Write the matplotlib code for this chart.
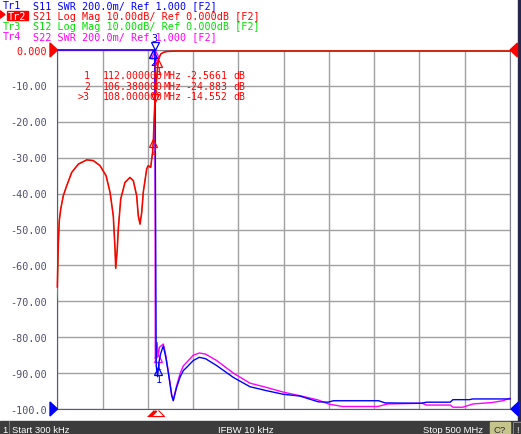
import numpy as np
import matplotlib
matplotlib.use('Agg')
import matplotlib.pyplot as plt
from matplotlib.patches import Polygon, Rectangle
from matplotlib.transforms import offset_copy

# 画面尺寸 (像素)
W, H = 521, 435

# 扫描范围 (MHz)
f_start = 0.3
f_stop = 500.0

# Tr2 S21 Log Mag (dB)
s21_freq = [0.3, 1.4, 2.5, 4.1, 6.9, 10.7, 16.2, 23.5, 32.8, 40.0,
            47.4, 54.1, 58.5, 62.1, 64.0, 64.8, 66.5, 67.6, 70.3, 75.0,
            80.5, 84.2, 87.9, 89.7, 91.6, 93.5, 95.2, 99.0, 100.7, 103.4,
            104.5, 105.5, 106.38, 107.2, 108.0, 110.0, 112.0, 114.5, 118.0, 122.0,
            130.0, 500.0]
s21_db = [-66.0, -54.0, -47.5, -44.3, -40.6, -37.8, -34.1, -31.8, -30.6, -30.8,
          -32.2, -35.0, -39.6, -46.2, -55.4, -60.8, -55.4, -49.9, -41.5, -36.9,
          -35.5, -36.4, -40.6, -46.2, -48.5, -45.2, -39.6, -33.1, -32.2, -32.7,
          -30.4, -28.5, -24.883, -19.0, -14.552, -7.5, -2.5661, -1.1, -0.6, -0.4,
          -0.3, -0.3]

# Tr3 S12 Log Mag (dB), lies under S21 except at the very start
s12_freq = s21_freq
s12_db = [-69.0] + s21_db[1:]

# Tr1 S11 SWR
s11_freq = [0.3, 108.0, 109.5, 111.0, 112.5, 114.5, 117.3, 120.0, 122.8, 126.6,
            128.3, 132.0, 136.0, 139.4, 143.1, 150.4, 157.0, 164.0, 176.2, 194.6,
            213.0, 231.4, 249.8, 268.2, 288.4, 299.4, 305.0, 355.0, 362.0, 402.0,
            408.0, 434.0, 437.0, 455.0, 459.0, 500.0]
s11_swr = [9.0, 9.0, 1.24, 1.18, 1.26, 1.31, 1.352, 1.29, 1.204, 1.074,
           1.046, 1.12, 1.18, 1.214, 1.232, 1.27, 1.288, 1.28, 1.242, 1.176,
           1.124, 1.102, 1.082, 1.072, 1.04, 1.038, 1.046, 1.046, 1.034, 1.032,
           1.038, 1.038, 1.052, 1.052, 1.056, 1.056]

# Tr4 S22 SWR
s22_freq = [0.3, 108.0, 108.5, 109.5, 110.5, 111.5, 113.0, 117.3, 120.0, 122.8,
            126.6, 128.3, 132.0, 136.0, 139.4, 143.1, 150.4, 157.0, 164.0, 176.2,
            194.6, 213.0, 231.4, 249.8, 268.2, 288.4, 299.4, 315.0, 354.0, 365.0,
            403.0, 408.0, 434.0, 437.0, 448.0, 459.0, 480.0, 492.0, 500.0]
s22_swr = [9.0, 9.0, 1.28, 1.31, 1.37, 1.29, 1.344, 1.362, 1.30, 1.21,
           1.08, 1.05, 1.13, 1.20, 1.24, 1.26, 1.30, 1.312, 1.306, 1.27,
           1.20, 1.144, 1.12, 1.094, 1.074, 1.05, 1.028, 1.014, 1.014, 1.028,
           1.032, 1.022, 1.022, 1.01, 1.01, 1.028, 1.036, 1.046, 1.06]

# 标记
marker_names = ['1', '2', '3']
marker_freq = [112.0, 106.38, 108.0]
marker_s21 = [-2.5661, -24.883, -14.552]
active_marker = 2

y_ticks = [0, -10, -20, -30, -40, -50, -60, -70, -80, -90, -100]
y_tick_labels = ['0.000', '-10.00', '-20.00', '-30.00', '-40.00', '-50.00',
                 '-60.00', '-70.00', '-80.00', '-90.00', '-100.0']

trace_names = ['Tr1', 'Tr2', 'Tr3', 'Tr4']
header_lines = ['S11 SWR 200.0m/ Ref 1.000 [F2]',
                'S21 Log Mag 10.00dB/ Ref 0.000dB [F2]',
                'S12 Log Mag 10.00dB/ Ref 0.000dB [F2]',
                'S22 SWR 200.0m/ Ref 1.000 [F2]']

BLUE = '#0000ff'
RED = '#ff0000'
GREEN = '#00e000'
MAGENTA = '#ff00ff'
LABEL = '#50506e'
MONO = 'DejaVu Sans Mono'
FS = 7.3

# 绘图区域 (像素)
AX_L, AX_R, AX_T, AX_B = 57.3, 510.0, 51.0, 410.0


def swr_to_div(swr, ref=1.0, scale=0.2):
    # SWR 参考位置在底部, 每格 200m
    v = -100 + (np.asarray(swr) - ref) / scale * 10
    return np.clip(v, -100, 0)


def draw_markers(ax, fig, values, color, sides, z):
    for name, f, v, side in zip(marker_names, marker_freq, values, sides):
        tri = 'v' if side > 0 else '^'
        tr = offset_copy(ax.transData, fig=fig, x=0, y=side * 4, units='dots')
        ax.plot([f], [v], marker=tri, ms=5.5, mfc='none', mec=color, mew=0.9,
                ls='none', transform=tr, clip_on=False, zorder=z)
        ax.annotate(name, (f, v), xytext=(0, side * 12 * 0.72), textcoords='offset points',
                    ha='center', va='center', color=color, family=MONO, fontsize=FS,
                    annotation_clip=False, zorder=z)


fig = plt.figure(figsize=(W / 100, H / 100), dpi=100)
fig.patch.set_facecolor('white')

ax = fig.add_axes([AX_L / W, 1 - AX_B / H, (AX_R - AX_L) / W, (AX_B - AX_T) / H])
ax.set_xlim(f_start, f_stop)
ax.set_ylim(-100, 0)
ax.set_xticks(np.linspace(f_start, f_stop, 11))
ax.set_yticks(y_ticks)
ax.tick_params(length=0, labelbottom=False, labelleft=False)
ax.grid(True, color='#a0a0a0', lw=1.0)
for side in ['left', 'bottom']:
    ax.spines[side].set_color('#5a5a78')
for side in ['top', 'right']:
    ax.spines[side].set_color('#80808e')

ax.plot(s12_freq, s12_db, color=GREEN, lw=0.6, zorder=3, clip_on=False)
ax.plot(s22_freq, swr_to_div(s22_swr), color=MAGENTA, lw=1.0, zorder=4, clip_on=False)
ax.plot(s11_freq, swr_to_div(s11_swr), color=BLUE, lw=1.0, zorder=5, clip_on=False)
ax.plot(s21_freq, s21_db, color=RED, lw=1.15, zorder=6, clip_on=False)

draw_markers(ax, fig, swr_to_div(np.interp(marker_freq, s22_freq, s22_swr)), MAGENTA, [-1, -1, -1], 4)
draw_markers(ax, fig, swr_to_div(np.interp(marker_freq, s11_freq, s11_swr)), BLUE, [-1, -1, 1], 5)
draw_markers(ax, fig, np.interp(marker_freq, s21_freq, s21_db), RED, [-1, -1, 1], 6)

# 频率轴上的标记位置
flat_tri = [(-1, -0.5), (1, -0.5), (0, 0.5)]
for i, f in enumerate(marker_freq):
    face = 'white' if i == 0 else RED
    ax.plot([f], [-101.25], marker=flat_tri, ms=8.6, mfc=face, mec=RED, mew=0.8,
            ls='none', clip_on=False, zorder=7 if i == 0 else 6)

# 覆盖层, 像素坐标
ov = fig.add_axes([0, 0, 1, 1], zorder=10)
ov.set_xlim(0, W)
ov.set_ylim(H, 0)
ov.axis('off')
ov.patch.set_alpha(0)

# 右侧边条
ov.add_patch(Rectangle((517.5, 0), 3.5, 422, color='#26264a', zorder=1))

# 参考电平三角
ov.add_patch(Polygon([(50, 44), (57.5, AX_T), (50, 58)], color=RED, zorder=3))
ov.add_patch(Polygon([(517.5, 44), (510, AX_T), (517.5, 58)], color=RED, zorder=3))
ov.add_patch(Polygon([(50, 403), (57.5, AX_B), (50, 417)], color=BLUE, zorder=3))
ov.add_patch(Polygon([(518.5, 403), (511, AX_B), (518.5, 417)], color=BLUE, zorder=3))

# 纵轴刻度
for i, lab in enumerate(y_tick_labels):
    y = AX_T + i * (AX_B - AX_T) / 10
    ov.text(47, y + 3.6, lab, ha='right', va='baseline', family=MONO, fontsize=FS,
            color=RED if i == 0 else LABEL)

# 迹线标题
header_colors = [BLUE, RED, GREEN, MAGENTA]
header_base = [9.3, 19.8, 30.0, 40.0]
for name, txt, c, yb in zip(trace_names, header_lines, header_colors, header_base):
    if name == 'Tr2':
        ov.add_patch(Rectangle((6.5, 11.5), 21, 9.5, color=RED, zorder=4))
        ov.add_patch(Polygon([(0, 11.7), (5, 15.5), (0, 19.3)], color=RED, zorder=4))
        ov.text(8, yb, name, ha='left', va='baseline', family=MONO, fontsize=FS,
                color='white', zorder=5)
    else:
        ov.text(3, yb, name, ha='left', va='baseline', family=MONO, fontsize=FS, color=c)
    ov.text(33, yb, txt, ha='left', va='baseline', family=MONO, fontsize=FS, color=c)

# 标记读数表
FS_T = 7.1
row_base = [79.3, 90.0, 100.0]
for i, (name, f, v) in enumerate(zip(marker_names, marker_freq, marker_s21)):
    lab = ('>' if i == active_marker else '') + name
    yb = row_base[i]
    ov.text(90, yb, lab, ha='right', va='baseline', family=MONO, fontsize=FS_T, color=RED)
    ov.text(102.5, yb, f'{f:.6f}', ha='left', va='baseline', family=MONO, fontsize=FS_T, color=RED)
    ov.text(164, yb, 'MHz', ha='left', va='baseline', family=MONO, fontsize=FS_T, color=RED)
    ov.text(227.5, yb, f'{v:.5g}', ha='right', va='baseline', family=MONO, fontsize=FS_T, color=RED)
    ov.text(233, yb, 'dB', ha='left', va='baseline', family=MONO, fontsize=FS_T, color=RED)

# 状态栏
ov.add_patch(Rectangle((0, 422), W, 13, color='#3c3c3c', zorder=1))
ov.plot([9, 9], [422, 435], color='#787878', lw=0.8, zorder=2)
SANS = 'Liberation Sans'
ov.text(2, 433, '1', ha='left', va='baseline', family=SANS, fontsize=6.8, color='white')
ov.text(11.7, 433, 'Start 300 kHz', ha='left', va='baseline', family=SANS, fontsize=6.8, color='white')
ov.text(218.3, 433, 'IFBW 10 kHz', ha='left', va='baseline', family=SANS, fontsize=6.8, color='white')
ov.text(483, 433, 'Stop 500 MHz', ha='right', va='baseline', family=SANS, fontsize=6.8, color='white')
ov.add_patch(Rectangle((490, 423), 20, 12, color='#c4c48c', zorder=2))
ov.text(500, 433, 'C?', ha='center', va='baseline', family=SANS, fontsize=6.8, color='#303030', zorder=3)
ov.add_patch(Rectangle((513, 423), 8, 12, facecolor='#3c3c3c', edgecolor='#909090', lw=0.6, zorder=2))
ov.text(517, 433, '!', ha='center', va='baseline', family=SANS, fontsize=6.8, color='white', zorder=3)

fig.savefig('out.png', dpi=100)
